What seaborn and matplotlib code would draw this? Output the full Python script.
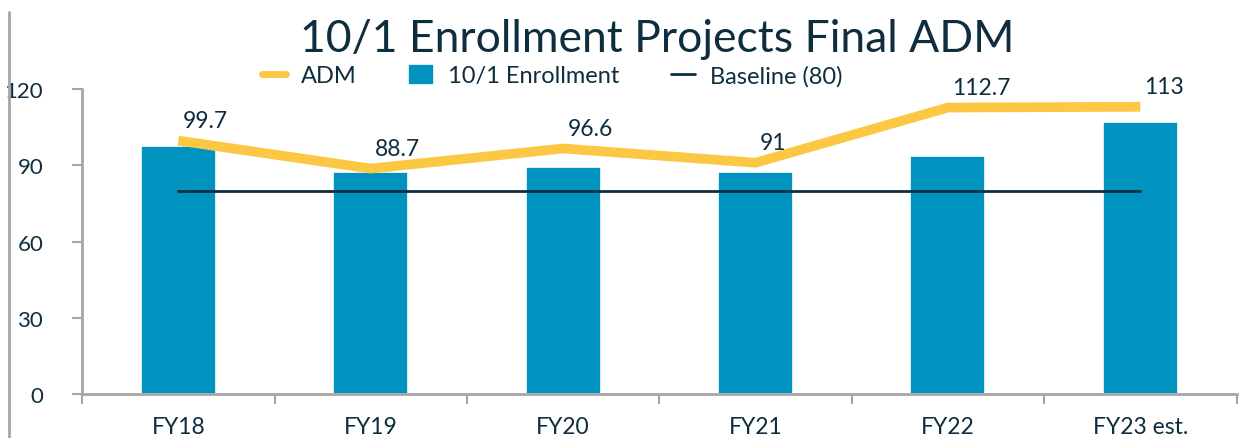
import numpy as np
import pandas as pd
import matplotlib
matplotlib.use("Agg")
import matplotlib.pyplot as plt
import seaborn as sns
from matplotlib.lines import Line2D
from matplotlib.patches import Patch

categories = ["FY18", "FY19", "FY20", "FY21", "FY22", "FY23 est."]
enrollment = [97.5, 87.5, 89.2, 87.5, 93.5, 107.0]
adm = [99.7, 88.7, 96.6, 91.0, 112.7, 113.0]
adm_labels = ["99.7", "88.7", "96.6", "91", "112.7", "113"]
baseline = [80, 80, 80, 80, 80, 80]
yticks = [0, 30, 60, 90, 120]

BLUE = "#0093C0"
GOLD = "#FCC844"
NAVY = "#0E2D3E"
GRAY = "#A6A6A6"

sns.set_theme(style="white")
plt.rcParams["font.family"] = ["Lato", "DejaVu Sans"]

fig = plt.figure(figsize=(12.44, 4.39), dpi=100)
ax = fig.add_axes([0.066, 0.1, 0.928, 0.695])

df = pd.DataFrame({"cat": categories, "enr": enrollment, "adm": adm, "base": baseline})
df["idx"] = np.arange(len(categories))

sns.barplot(data=df, x="cat", y="enr", color=BLUE, width=0.39, ax=ax,
            saturation=1, edgecolor="white", linewidth=1.2, zorder=2)
sns.lineplot(data=df, x="idx", y="adm", color=GOLD, linewidth=7, ax=ax,
             zorder=3, solid_capstyle="butt")
sns.lineplot(data=df, x="idx", y="base", color=NAVY, linewidth=2, ax=ax, zorder=4)

for i, (v, lab) in enumerate(zip(adm, adm_labels)):
    ax.annotate(lab, (i, v), xytext=(3, 7), textcoords="offset points",
                ha="left", va="bottom", fontsize=16.5, color=NAVY)

ax.set_xlim(-0.5, len(categories) - 0.5)
ax.set_ylim(0, 120)
ax.set_yticks(yticks)
ax.set_yticklabels([str(t) for t in yticks])
ax.set_xlabel("")
ax.set_ylabel("")

ax.set_xticks(np.arange(len(categories)))
ax.set_xticklabels(categories)
ax.set_xticks(np.arange(-0.5, len(categories)), minor=True)
ax.tick_params(axis="x", which="major", length=0, pad=16, labelsize=16.5, labelcolor=NAVY)
ax.tick_params(axis="x", which="minor", length=7, width=1.5, color=GRAY, direction="out", bottom=True)
ax.tick_params(axis="y", which="major", length=7, width=1.5, color=GRAY, direction="out", left=True,
               pad=21, labelsize=16, labelcolor=NAVY)

for s in ["top", "right"]:
    ax.spines[s].set_visible(False)
for s in ["left", "bottom"]:
    ax.spines[s].set_color(GRAY)
    ax.spines[s].set_linewidth(2)
ax.grid(False)

# left border line of the slide
fig.add_artist(Line2D([0.007, 0.007], [0.0, 0.97], transform=fig.transFigure,
                      color=GRAY, linewidth=2))

fig.text(0.528, 0.91, "10/1 Enrollment Projects Final ADM", ha="center", va="center",
         fontsize=32, color=NAVY)

handles = [
    Line2D([0], [0], color=GOLD, linewidth=5),
    Patch(facecolor=BLUE, edgecolor=BLUE),
    Line2D([0], [0], color=NAVY, linewidth=2),
]
fig.legend(handles, ["ADM", "10/1 Enrollment", "Baseline (80)"], loc="center",
           bbox_to_anchor=(0.444, 0.826), ncol=3, frameon=False, fontsize=17,
           labelcolor=NAVY, handlelength=1.0, handleheight=0.8, columnspacing=2.2,
           handletextpad=0.65)

fig.savefig("out.png", dpi=100, facecolor="white")
